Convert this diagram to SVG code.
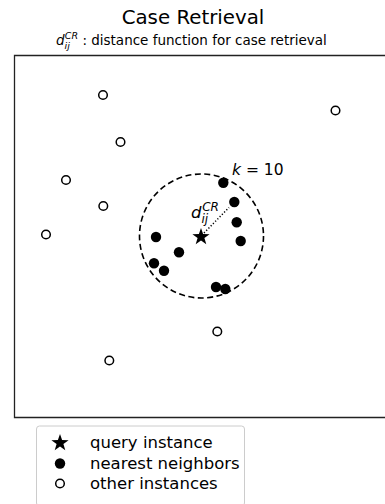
<svg xmlns="http://www.w3.org/2000/svg" width="385" height="504" viewBox="0 0 385 504">
<style>
text{font-family:"DejaVu Sans",sans-serif;fill:#000}
.m{font-style:italic}
.open{fill:#fff;stroke:#000;stroke-width:1.5}
.nn{fill:#000}
</style>
<defs>
<circle id="oc" r="4.3" class="open"/>
<circle id="fc" r="5.2" class="nn"/>
<polygon id="star" points="0,-9 2.1,-2.9 8.6,-2.8 3.4,1.1 5.3,7.3 0,3.6 -5.3,7.3 -3.4,1.1 -8.6,-2.8 -2.1,-2.9" fill="#000"/>
</defs>
<rect width="385" height="504" fill="#fff"/>
<g id="title">
<text x="193" y="24" font-size="19.8" text-anchor="middle">Case Retrieval</text>
<text x="56" y="45" font-size="13.5"><tspan class="m">d</tspan><tspan class="m" font-size="9.5" dy="4">ij</tspan><tspan class="m" font-size="9.5" dx="-5" dy="-10">CR</tspan><tspan dy="6"> : distance function for case retrieval</tspan></text>
</g>
<g id="frame">
<path d="M386,55.5 H14.5 V417.5 H386" fill="none" stroke="#222" stroke-width="1.3"/>
</g>
<g id="connectors">
<circle cx="201.5" cy="236" r="62" fill="none" stroke="#000" stroke-width="1.6" stroke-dasharray="6,3.5"/>
<line x1="204" y1="233" x2="229" y2="207.5" stroke="#000" stroke-width="1.5" stroke-dasharray="1.2,2"/>
</g>
<g id="others">
<use href="#oc" x="103" y="95"/>
<use href="#oc" x="120.5" y="142"/>
<use href="#oc" x="335.5" y="110.5"/>
<use href="#oc" x="66" y="180"/>
<use href="#oc" x="103.3" y="206"/>
<use href="#oc" x="46" y="234.5"/>
<use href="#oc" x="217.3" y="331.5"/>
<use href="#oc" x="109.3" y="360.5"/>
</g>
<g id="neighbors">
<use href="#fc" x="223.3" y="182.7"/>
<use href="#fc" x="234.3" y="202"/>
<use href="#fc" x="236.7" y="222.3"/>
<use href="#fc" x="240.7" y="241"/>
<use href="#fc" x="156" y="237"/>
<use href="#fc" x="179" y="252.3"/>
<use href="#fc" x="154" y="263.3"/>
<use href="#fc" x="164" y="270.7"/>
<use href="#fc" x="216" y="287"/>
<use href="#fc" x="225.3" y="289"/>
</g>
<g id="query">
<use href="#star" x="201" y="237"/>
</g>
<g id="labels">
<text x="232" y="175" font-size="15.5"><tspan class="m">k</tspan> = 10</text>
<text x="191" y="218" font-size="16.5"><tspan class="m">d</tspan><tspan class="m" font-size="12" dy="5">ij</tspan><tspan class="m" font-size="12" dx="-6" dy="-12.5">CR</tspan></text>
</g>
<g id="legend">
<rect x="36.5" y="426" width="208" height="80" rx="3" fill="#fff" stroke="#ccc" stroke-width="1"/>
<use href="#star" x="60" y="443"/>
<use href="#fc" x="60" y="463.5"/>
<use href="#oc" x="60" y="483.5"/>
<text x="90" y="448" font-size="16.5">query instance</text>
<text x="90" y="468.5" font-size="16.5">nearest neighbors</text>
<text x="90" y="488.5" font-size="16.5">other instances</text>
</g>
</svg>
